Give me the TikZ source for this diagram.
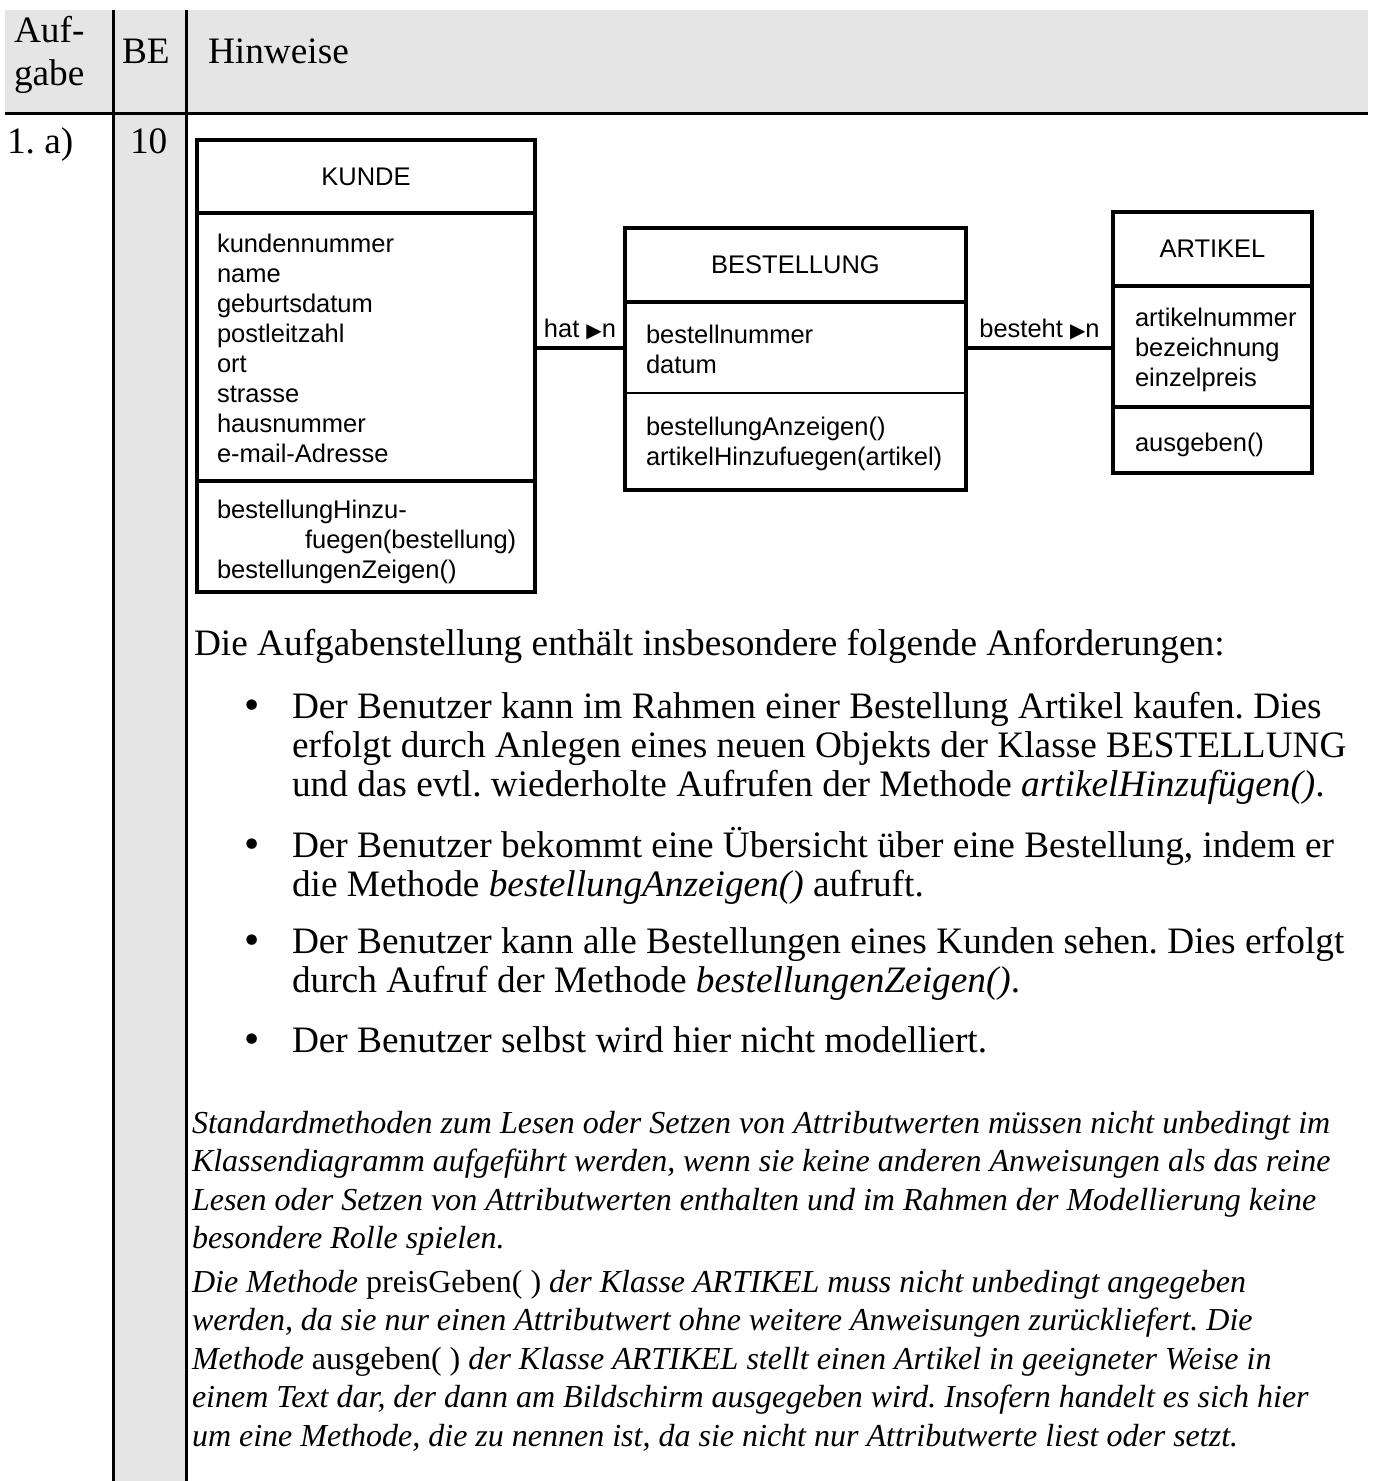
\documentclass[tikz,border=0pt]{standalone}
\usepackage{fontspec}
\setmainfont{Liberation Serif}
\newfontfamily\umlfont{Liberation Sans}
\newfontfamily\trifont{DejaVu Sans}
\definecolor{headgray}{gray}{0.9}
\newcommand{\umlstrut}{\rule{0pt}{21pt}}
\newcommand{\bodystrut}{\rule{0pt}{33pt}}
\newcommand{\notestrut}{\rule{0pt}{28pt}}
\newcommand{\tri}{{\trifont\fontsize{20pt}{20pt}\selectfont ▶}}
\frenchspacing
\begin{document}
\begin{tikzpicture}[x=1pt,y=-1pt,inner sep=0pt,outer sep=0pt,
tablerule/.style={line width=3pt},
headtxt/.style={font=\fontsize{37.3pt}{43pt}\selectfont,align=left},
bodytxt/.style={font=\fontsize{37.3pt}{39.3pt}\selectfont,align=left},
dottxt/.style={font=\trifont\fontsize{36pt}{36pt}\selectfont,anchor=base west},
notetxt/.style={font=\itshape\fontsize{32pt}{38.6pt}\selectfont,align=left},
compart/.style={rectangle,anchor=north west,font=\umlfont\fontsize{25.5pt}{30pt}\selectfont},
umltxt/.style={font=\umlfont\fontsize{25.5pt}{30pt}\selectfont,align=left,anchor=north west},
umlframe/.style={line width=4.5pt},
divider/.style={line width=4pt},
assoc/.style={line width=4pt},
assoclabel/.style={font=\umlfont\fontsize{25.5pt}{30pt}\selectfont,anchor=base,yshift=10pt}]
\useasboundingbox (0,0) rectangle (1373,1481);
\fill[headgray] (5,10) rectangle (1368,112);
\fill[headgray] (113,112) rectangle (186,1481);
\draw[tablerule] (5,113) -- (1368,113);
\draw[tablerule] (113,10) -- (113,1481);
\draw[tablerule] (186,10) -- (186,1481);
\node[headtxt,anchor=north west] (aufgabe) at (14,9) {\bodystrut Auf-\\gabe};
\node[headtxt,anchor=base west] (be) at (122,63) {BE};
\node[headtxt,anchor=base west] (hinweise) at (208,63) {Hinweise};
\node[headtxt,anchor=base west] (nr) at (7,153) {1. a)};
\node[headtxt,anchor=base west] (punkte) at (130,153) {10};
\node[compart,minimum width=338pt,minimum height=73pt] (kundeHead) at (197,140) {KUNDE};
\node[compart,minimum width=338pt,minimum height=268pt] (kundeAttr) at (197,213) {};
\node[compart,minimum width=338pt,minimum height=111pt] (kundeOps) at (197,481) {};
\node[umltxt] (kundeAttrTxt) at (217,231) {\umlstrut kundennummer\\name\\geburtsdatum\\postleitzahl\\ort\\strasse\\hausnummer\\e-mail-Adresse};
\node[umltxt] (kundeOpsTxt) at (217,497) {\umlstrut bestellungHinzu-\\\hspace*{88pt}fuegen(bestellung)\\bestellungenZeigen()};
\draw[umlframe] (kundeHead.north west) rectangle (kundeOps.south east);
\draw[divider] (kundeAttr.north west) -- (kundeAttr.north east);
\draw[divider] (kundeOps.north west) -- (kundeOps.north east);
\node[compart,minimum width=341pt,minimum height=74pt] (bestHead) at (625,228) {\raisebox{-3pt}{BESTELLUNG}};
\node[compart,minimum width=341pt,minimum height=91pt] (bestAttr) at (625,302) {};
\node[compart,minimum width=341pt,minimum height=97pt] (bestOps) at (625,393) {};
\node[umltxt] (bestAttrTxt) at (646,322) {\umlstrut bestellnummer\\datum};
\node[umltxt] (bestOpsTxt) at (646,414) {\umlstrut bestellungAnzeigen()\\artikelHinzufuegen(artikel)};
\draw[umlframe] (bestHead.north west) rectangle (bestOps.south east);
\draw[divider] (bestAttr.north west) -- (bestAttr.north east);
\draw[line width=2.5pt] (bestOps.north west) -- (bestOps.north east);
\node[compart,minimum width=199pt,minimum height=74pt] (artHead) at (1113,212) {ARTIKEL};
\node[compart,minimum width=199pt,minimum height=121pt] (artAttr) at (1113,286) {};
\node[compart,minimum width=199pt,minimum height=66pt] (artOps) at (1113,407) {};
\node[umltxt] (artAttrTxt) at (1135,305) {\umlstrut artikelnummer\\bezeichnung\\einzelpreis};
\node[umltxt] (artOpsTxt) at (1135,430) {\umlstrut ausgeben()};
\draw[umlframe] (artHead.north west) rectangle (artOps.south east);
\draw[divider] (artAttr.north west) -- (artAttr.north east);
\draw[divider] (artOps.north west) -- (artOps.north east);
\draw[assoc] (kundeAttr.east |- bestAttr.west) -- node[assoclabel] (hat) {hat \tri n} (bestAttr.west);
\draw[assoc] (bestAttr.east) -- node[assoclabel] (besteht) {besteht \tri n} (bestAttr.east -| artAttr.west);
\node[bodytxt,anchor=base west] (intro) at (194,655) {Die Aufgabenstellung enthält insbesondere folgende Anforderungen:};
\node[dottxt] (dot1) at (241,718) {•};
\node[bodytxt,anchor=north west] (item1) at (292,685) {\bodystrut Der Benutzer kann im Rahmen einer Bestellung Artikel kaufen. Dies\\erfolgt durch Anlegen eines neuen Objekts der Klasse BESTELLUNG\\und das evtl. wiederholte Aufrufen der Methode \textit{artikelHinzufügen()}.};
\node[dottxt] (dot2) at (241,857) {•};
\node[bodytxt,anchor=north west] (item2) at (292,824) {\bodystrut Der Benutzer bekommt eine Übersicht über eine Bestellung, indem er\\die Methode \textit{bestellungAnzeigen()} aufruft.};
\node[dottxt] (dot3) at (241,953) {•};
\node[bodytxt,anchor=north west] (item3) at (292,920) {\bodystrut Der Benutzer kann alle Bestellungen eines Kunden sehen. Dies erfolgt\\durch Aufruf der Methode \textit{bestellungenZeigen()}.};
\node[dottxt] (dot4) at (241,1052) {•};
\node[bodytxt,anchor=base west] (item4) at (292,1052) {Der Benutzer selbst wird hier nicht modelliert.};
\node[notetxt,anchor=north west] (note1) at (192,1105) {\notestrut Standardmethoden zum Lesen oder Setzen von Attributwerten müssen nicht unbedingt im\\Klassendiagramm aufgeführt werden, wenn sie keine anderen Anweisungen als das reine\\Lesen oder Setzen von Attributwerten enthalten und im Rahmen der Modellierung keine\\besondere Rolle spielen.};
\node[notetxt,anchor=north west] (note2) at (192,1264) {\notestrut Die Methode \textup{preisGeben( )} der Klasse ARTIKEL muss nicht unbedingt angegeben\\werden, da sie nur einen Attributwert ohne weitere Anweisungen zurückliefert. Die\\Methode \textup{ausgeben( )} der Klasse ARTIKEL stellt einen Artikel in geeigneter Weise in\\einem Text dar, der dann am Bildschirm ausgegeben wird. Insofern handelt es sich hier\\um eine Methode, die zu nennen ist, da sie nicht nur Attributwerte liest oder setzt.};
\end{tikzpicture}
\end{document}
